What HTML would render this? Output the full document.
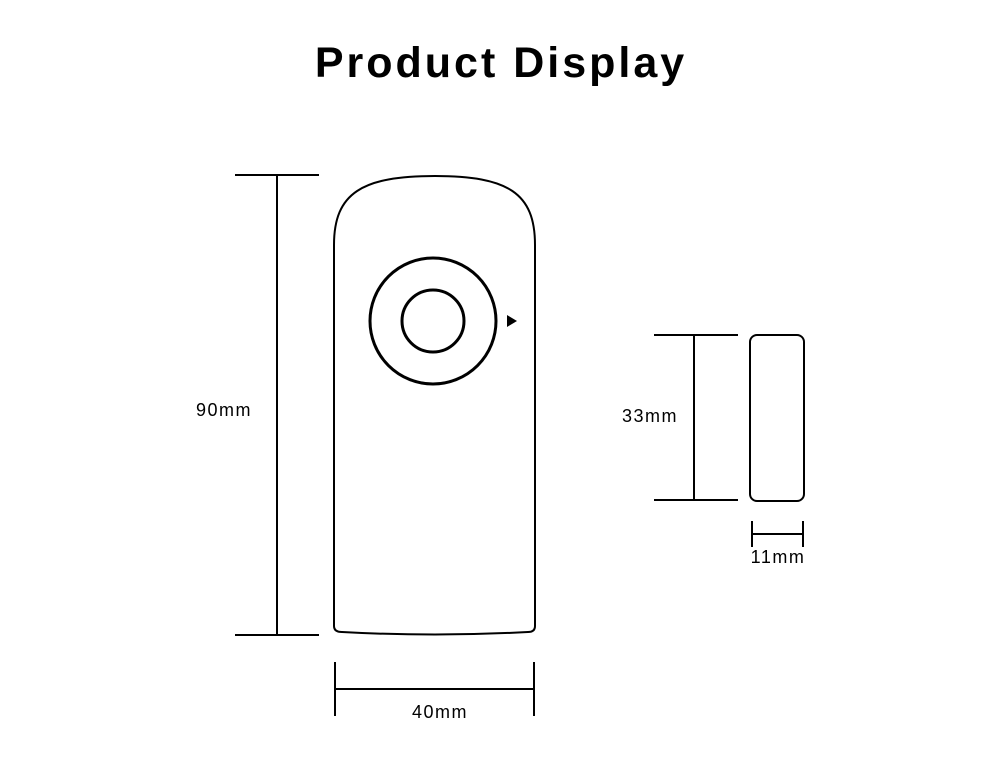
<!DOCTYPE html>
<html><head><meta charset="utf-8"><style>
html,body{margin:0;padding:0;background:#fff;}
svg{display:block;}
</style></head><body>
<svg width="1000" height="778" viewBox="0 0 1000 778" xmlns="http://www.w3.org/2000/svg">
<rect width="1000" height="778" fill="#fff"/>
<text x="501" y="77" text-anchor="middle" font-family="Liberation Sans, sans-serif" font-weight="bold" font-size="43" letter-spacing="3" fill="#000">Product Display</text>
<g fill="none" stroke="#000" stroke-width="2">
<path d="M334,626 L334,245 C334,193 362,176 435,176 C508,176 535,193 535,245 L535,626 Q535,632 528,632 Q435,637 342,632 Q334,632 334,626 Z"/>
<circle cx="433" cy="321" r="63" stroke-width="3"/>
<circle cx="433" cy="321" r="31" stroke-width="3"/>
<line x1="235" y1="175" x2="319" y2="175"/>
<line x1="235" y1="635" x2="319" y2="635"/>
<line x1="277" y1="175" x2="277" y2="635"/>
<line x1="335" y1="662" x2="335" y2="716"/>
<line x1="534" y1="662" x2="534" y2="716"/>
<line x1="335" y1="689" x2="534" y2="689"/>
<rect x="750" y="335" width="54" height="166" rx="7"/>
<line x1="654" y1="335" x2="738" y2="335"/>
<line x1="654" y1="500" x2="738" y2="500"/>
<line x1="694" y1="335" x2="694" y2="500"/>
<line x1="752" y1="521" x2="752" y2="547"/>
<line x1="803" y1="521" x2="803" y2="547"/>
<line x1="752" y1="534" x2="803" y2="534"/>
</g>
<polygon points="507,315 517,321 507,327" fill="#000"/>
<g font-family="Liberation Sans, sans-serif" font-size="18" letter-spacing="1.5" fill="#000">
<text x="224" y="416" text-anchor="middle">90mm</text>
<text x="440" y="718" text-anchor="middle">40mm</text>
<text x="650" y="422" text-anchor="middle">33mm</text>
<text x="778" y="563" text-anchor="middle">11mm</text>
</g>
</svg>
</body></html>
